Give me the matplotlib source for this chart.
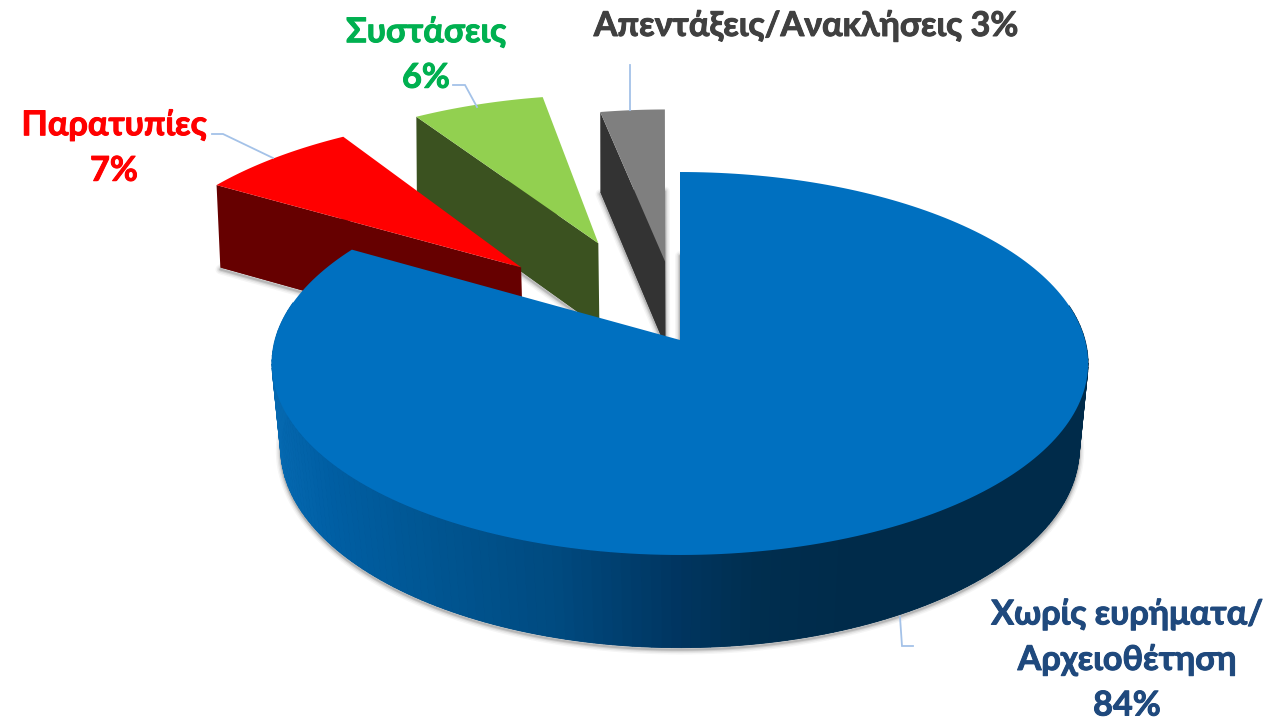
import numpy as np
import matplotlib
matplotlib.use("Agg")
import matplotlib.pyplot as plt
import matplotlib.patheffects as pe
from matplotlib.patches import Polygon

# shares in pie order, clockwise from 12 o'clock (printed labels are the rounded values)
names = ["Χωρίς ευρήματα/\nΑρχειοθέτηση\n84%", "Παρατυπίες\n7%", "Συστάσεις\n6%", "Απεντάξεις/Ανακλήσεις 3%"]
shares = [83.5, 7.3, 6.2, 3.0]
explode = [0.0, 0.585, 0.59, 0.44]
turn_deg = [0.0, 0.0, 0.0, -0.3]
nudge_px = [0, 4, 2, 1]
top_colors = ["#0070C0", "#FF0000", "#92D050", "#7F7F7F"]
cut_colors = ["#00335F", "#660000", "#3B5220", "#333333"]
text_colors = ["#1F497D", "#FF0000", "#00B050", "#404040"]
label_xy = [(1127, 660), (114, 148), (426, 55), (806, 26)]
leaders = [
    [(900, 617), (902, 646), (913, 646)],
    [(212, 134), (223, 134), (273, 158)],
    [(453, 85), (465, 85), (477, 107)],
    [(630, 65), (630, 110)],
]

# fake 3D view of the pie, in pixels
cx, cy = 680, 340
sx, sy, persp = 405, 188.6, 0.1227
depth = 87

# side of the big slice gets darker from left to right
grad_x = [272, 330, 420, 560, 680, 760, 850, 1090]
grad_c = [(0.02, 0.41, 0.69), (0.0, 0.37, 0.64), (0.0, 0.34, 0.58), (0.0, 0.29, 0.50),
          (0.0, 0.21, 0.38), (0.0, 0.18, 0.31), (0.0, 0.17, 0.29), (0.0, 0.17, 0.29)]


def project(u, v):
    d = 1 + persp * v
    return cx + sx * u / d, cy - sy * v / d


def project_low(u, v):
    x, y = project(u, v)
    shrink = 0.98 + 0.013 * np.asarray(v)
    return cx + (x - cx) * shrink, y + depth / (1 + 0.5 * persp * np.asarray(v))


def side_color(x):
    return tuple(np.interp(x, grad_x, [c[i] for c in grad_c]) for i in range(3))


fig = plt.figure(figsize=(12.74, 7.21), dpi=100)
ax = fig.add_axes([0, 0, 1, 1])
ax.set_xlim(0, 1274)
ax.set_ylim(721, 0)
ax.axis("off")

ends = np.cumsum(shares) / sum(shares) * 2 * np.pi
starts = np.concatenate([[0], ends[:-1]])

# back slices first, big one last
for i in [3, 2, 1, 0]:
    mid = (starts[i] + ends[i]) / 2
    ox = explode[i] * np.sin(mid) + nudge_px[i] * 1.1 / sx
    oy = explode[i] * np.cos(mid)
    th = np.linspace(starts[i], ends[i], 240) + np.radians(turn_deg[i])
    u = np.concatenate([[ox], ox + np.sin(th)])
    v = np.concatenate([[oy], oy + np.cos(th)])

    # soft shadow round the bottom face
    low = np.column_stack(project_low(u, v))
    for lw, a in [(7, 0.05), (5, 0.08), (3, 0.12), (1.5, 0.18)]:
        ax.add_patch(Polygon(low + [0, 2], closed=True, fill=False, edgecolor="#404040",
                             lw=lw, alpha=a, joinstyle="round"))
    ax.add_patch(Polygon(low, closed=True, fc=cut_colors[i], ec="none"))

    # outer rim, only the part facing the viewer
    for j in range(len(th) - 1):
        if np.cos(th[j]) > 0.2:
            continue
        a0, a1 = (ox + np.sin(th[j]), oy + np.cos(th[j])), (ox + np.sin(th[j + 1]), oy + np.cos(th[j + 1]))
        quad = [project(*a0), project(*a1), project_low(*a1), project_low(*a0)]
        c = side_color(project(*a0)[0])
        ax.add_patch(Polygon(quad, closed=True, fc=c, ec=c, lw=0.6))

    # cut face at the start of the slice
    p0 = (ox, oy)
    p1 = (ox + np.sin(th[0]), oy + np.cos(th[0]))
    ax.add_patch(Polygon([project(*p0), project(*p1), project_low(*p1), project_low(*p0)],
                         closed=True, fc=cut_colors[i], ec="none"))

    # top face
    ax.add_patch(Polygon(np.column_stack(project(u, v)), closed=True, fc=top_colors[i], ec="none"))

for pts, name, col, xy in zip(leaders, names, text_colors, label_xy):
    xs, ys = zip(*pts)
    ax.plot(xs, ys, color="#A4C2E8", lw=1.3, solid_joinstyle="miter")
    ax.text(xy[0], xy[1], name, color=col, ha="center", va="center", fontsize=24.6,
            fontweight="bold", family=["Lato", "Noto Sans"], linespacing=1.52,
            path_effects=[pe.withStroke(linewidth=0.7, foreground=col)])

fig.savefig("out.png", dpi=100)
